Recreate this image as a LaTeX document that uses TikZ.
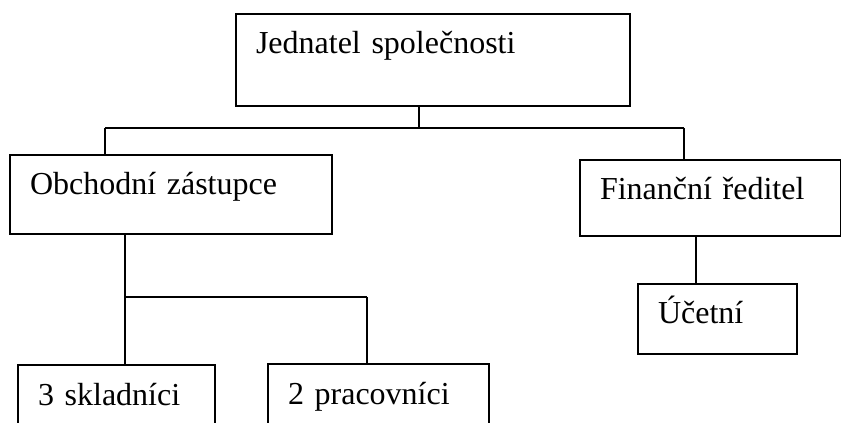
\documentclass[tikz,border=0pt]{standalone}
\usepackage{fontspec}
\setmainfont{Liberation Serif}

\tikzstyle{element}=[rectangle, draw, line width=1.5, anchor=north west,
                     inner xsep=15pt, inner ysep=0pt, text height=30pt,
                     align=left, font=\fontsize{24}{28}\selectfont]
\tikzstyle{link}=[-, line width=1.5]

\begin{document}
\begin{tikzpicture}[x=0.75pt, y=-0.75pt]

\useasboundingbox (0, 0) rectangle (841, 423);

%%%%%%%%%%%%%%%%%%
%%%%%%%%%%%%%%%%%%
\node (Jednatel) at (235, 13) [element, text width=265.5pt, text depth=39pt] {Jednatel společnosti};

%%%%%%%%%%%%%%%%%%
\node (Obchodni) at (9, 154) [element, text width=211.5pt, text depth=29.25pt] {Obchodní zástupce};

\node (Financni) at (579, 159) [element, text width=165.75pt, text depth=27pt] {Finanční ředitel};

%%%%%%%%%%%%%%%%%%
\node (Ucetni) at (637, 283) [element, text width=89.25pt, text depth=22.5pt] {Účetní};

%%%%%%%%%%%%%%%%%%
\node (Skladnici) at (17, 364) [element, text width=117.75pt, text depth=30pt] {3 skladníci};

\node (Pracovnici) at (267, 363) [element, text width=135.75pt, text depth=30pt] {2 pracovníci};

%%%%%%%%%%%%%%%%%%%%
%%%%%%%%%%%%%%%%%%%%
\coordinate (top_split) at (419, 128);
\coordinate (top_left) at (105, 128);
\coordinate (top_right) at (684, 128);

\draw [link] (Jednatel.south -| top_split) to (top_split);

\draw [link] (top_left) to (top_right);

\draw [link] (top_left) to (top_left |- Obchodni.north);

\draw [link] (top_right) to (top_right |- Financni.north);

%%%%%%%%%%%%%%%%%%%%
\coordinate (fin_link) at (696, 260);

\draw [link] (Financni.south -| fin_link) to (Ucetni.north -| fin_link);

%%%%%%%%%%%%%%%%%%%%
\coordinate (sub_split) at (125, 297);
\coordinate (sub_right) at (367, 297);

\draw [link] (Obchodni.south -| sub_split) to (sub_split |- Skladnici.north);

\draw [link] (sub_split) to (sub_right);

\draw [link] (sub_right) to (sub_right |- Pracovnici.north);

\end{tikzpicture}
\end{document}
